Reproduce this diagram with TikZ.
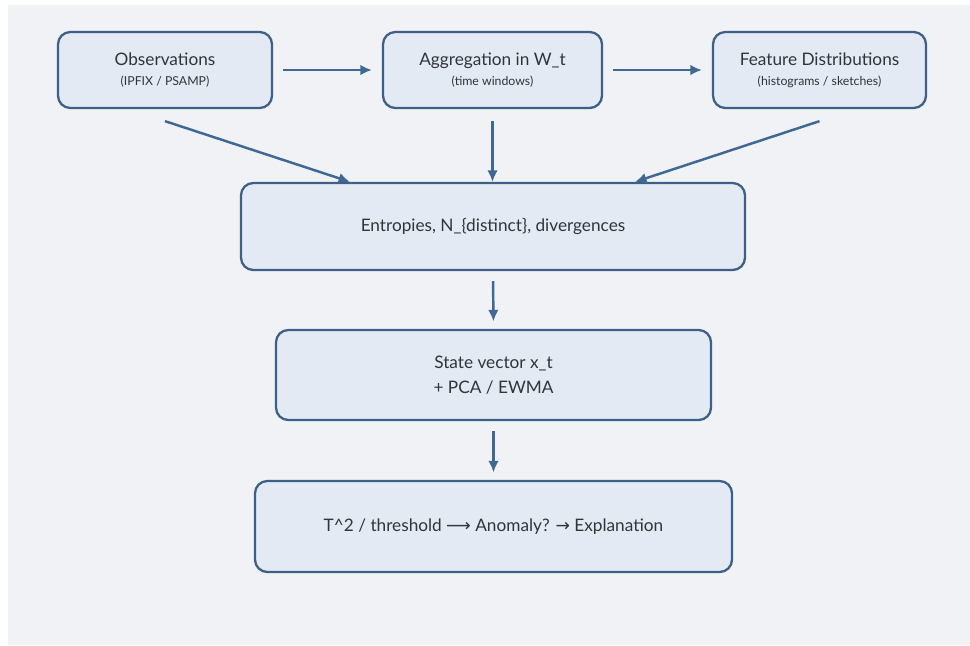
\documentclass[tikz,border=0pt]{standalone}
\usepackage{fontspec}
\setmainfont{Lato}
\newfontfamily\arrowfont{DejaVu Sans}
\usetikzlibrary{arrows.meta,positioning}
\definecolor{pagegray}{RGB}{240,242,246}
\definecolor{boxfill}{RGB}{227,234,244}
\definecolor{boxline}{RGB}{62,95,134}
\definecolor{arrowblue}{RGB}{64,104,148}
\definecolor{textgray}{RGB}{50,52,56}

\begin{document}
\begin{tikzpicture}[every node/.style={text=textgray},
      box/.style={draw=boxline,line width=1.3pt,fill=boxfill,rounded corners=7pt,
                  align=center,font=\fontsize{9.8}{14.5}\selectfont},
      arr/.style={-{Latex[length=6.5pt,width=6pt]},draw=arrowblue,line width=1.4pt}]
    \useasboundingbox (0,0) rectangle (19.4,-12.9);
    \fill[white] (0,0) rectangle (19.4,-12.9);
    \fill[pagegray] (0.16,-0.1) rectangle (19.4,-12.9);
    \node[box,minimum width=4.28cm,minimum height=1.52cm] (obs) at (3.3,-1.4)
      {Observations\\[-3pt]{\fontsize{7}{8}\selectfont (IPFIX / PSAMP)}};
    \node[box,minimum width=4.38cm,minimum height=1.52cm] (agg) at (9.85,-1.4)
      {Aggregation in W\_t\\[-3pt]{\fontsize{7}{8}\selectfont (time windows)}};
    \node[box,minimum width=4.26cm,minimum height=1.52cm] (feat) at (16.39,-1.4)
      {Feature Distributions\\[-3pt]{\fontsize{7}{8}\selectfont (histograms / sketches)}};
    \node[box,minimum width=10.08cm,minimum height=1.74cm] (ent) at (9.86,-4.53)
      {Entropies, N\_\{distinct\}, divergences};
    \node[box,minimum width=8.7cm,minimum height=1.8cm] (state) at (9.87,-7.5)
      {State vector x\_t\\+ PCA / EWMA};
    \node[box,minimum width=9.54cm,minimum height=1.82cm] (score) at (9.87,-10.53)
      {T\textasciicircum 2 / threshold {\arrowfont ⟶} Anomaly? {\arrowfont →} Explanation};
    \draw[arr,shorten <=0.2cm,shorten >=0.2cm] (obs.east)--(agg.west);
    \draw[arr,shorten <=0.2cm,shorten >=0.2cm] (agg.east)--(feat.west);
    \draw[arr] ([yshift=-0.24cm]obs.south)--([xshift=-2.86cm]ent.north);
    \draw[arr,shorten <=0.24cm] (agg.south)--(agg.south|-ent.north);
    \draw[arr] ([yshift=-0.24cm]feat.south)--([xshift=2.84cm]ent.north);
    \draw[arr,shorten <=0.2cm,shorten >=0.15cm] (ent.south)--(state.north);
    \draw[arr,shorten <=0.2cm,shorten >=0.15cm] (state.south)--(score.north);
  \end{tikzpicture}
\end{document}
